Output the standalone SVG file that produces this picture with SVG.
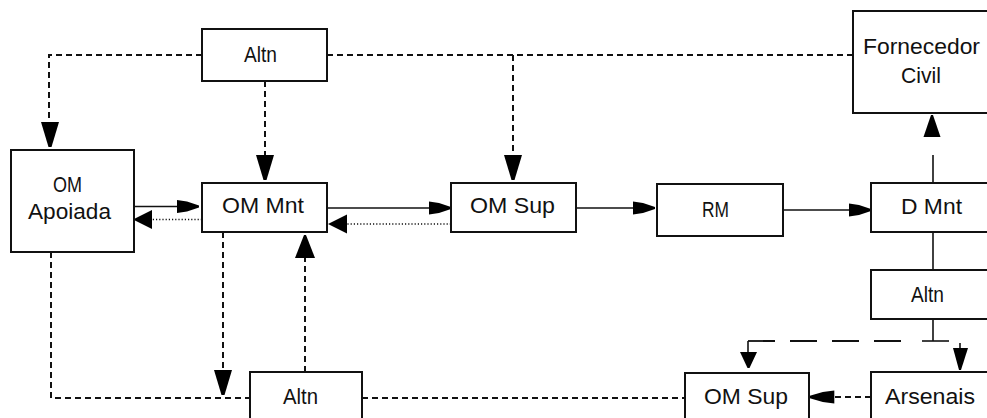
<svg xmlns="http://www.w3.org/2000/svg" xmlns:xlink="http://www.w3.org/1999/xlink" width="987" height="418" viewBox="0 0 987 418">
  <style>
    .box { fill: #fff; stroke: #111; stroke-width: 2; }
    .lbl { font-family: "Liberation Sans", Arial, sans-serif; font-size: 22px; fill: #111; }
    .solid { fill: none; stroke: #111; stroke-width: 1.6; }
    .dash { fill: none; stroke: #111; stroke-width: 2; stroke-dasharray: 6 4; }
    .dot { fill: none; stroke: #111; stroke-width: 1.6; stroke-dasharray: 1.2 2; }
    .long { fill: none; stroke: #111; stroke-width: 1.8; stroke-dasharray: 27 15; }
    .head { fill: #000; stroke: none; }
  </style>
  <defs>
    <!-- arrowheads, all pointing along +x with the tip at the origin -->
    <polygon id="hBig" class="head" points="0,-1.5 0,1.5 -25,9 -25,-9"/>
    <polygon id="hSlim" class="head" points="0,-1 0,1 -12,5 -22,6.5 -22,-6.5 -12,-5"/>
    <polygon id="hDot" class="head" points="0,0 -19,9.5 -19,-9.5"/>
    <polygon id="hSmall" class="head" points="0,-1 0,1 -22,8.5 -22,-8.5"/>
  </defs>

  <rect width="987" height="418" fill="#fff"/>

  <g id="connectors">
    <!-- Altn (top) distribution lines -->
    <path class="dash" d="M202 55 H49 V122"/>
    <use xlink:href="#hBig" transform="translate(50,147) rotate(90)"/>
    <path class="dash" d="M265 81 V155"/>
    <use xlink:href="#hBig" transform="translate(265,180) rotate(90)"/>
    <path class="dash" d="M327 55 H853"/>
    <path class="dash" d="M513 55 V155"/>
    <use xlink:href="#hBig" transform="translate(513,180) rotate(90)"/>

    <!-- OM Apoiada <-> OM Mnt -->
    <path class="solid" d="M133 206.5 H178"/>
    <use xlink:href="#hSlim" transform="translate(199,206.5)"/>
    <path class="dot" d="M202 219.5 H151"/>
    <use xlink:href="#hDot" transform="translate(133,219.5) rotate(180)"/>

    <!-- OM Mnt <-> OM Sup -->
    <path class="solid" d="M327 208 H430"/>
    <use xlink:href="#hSlim" transform="translate(451,208)"/>
    <path class="dot" d="M451 224 H346"/>
    <use xlink:href="#hDot" transform="translate(328,224) rotate(180)"/>

    <!-- OM Sup -> RM -> D Mnt -->
    <path class="solid" d="M576 208 H634"/>
    <use xlink:href="#hSlim" transform="translate(655,208)"/>
    <path class="solid" d="M783 210 H850"/>
    <use xlink:href="#hSlim" transform="translate(871,210)"/>

    <!-- D Mnt -> Fornecedor Civil -->
    <path class="solid" d="M933 183 V155"/>
    <use xlink:href="#hSmall" transform="translate(932,115) rotate(-90)"/>

    <!-- D Mnt -> Altn -> split -->
    <path class="solid" d="M933 232 V270"/>
    <path class="solid" d="M933 319 V341"/>
    <path class="solid" d="M922 341 H949"/>
    <path class="long" d="M748 341 H910"/>
    <path class="solid" d="M748 341 V352"/>
    <polygon class="head" points="740,352 757,352 749.5,368 747.5,368"/>
    <path class="solid" d="M960 343 V350"/>
    <polygon class="head" points="953,348 968,348 961,370 959,370"/>

    <!-- Arsenais -> OM Sup (bottom) -->
    <path class="dash" d="M871 397 H833"/>
    <use xlink:href="#hSlim" transform="translate(809,397) rotate(180) scale(1.15,1)"/>

    <!-- bottom lines around Altn (bottom) -->
    <path class="dash" d="M51 252 V398 H250"/>
    <path class="dash" d="M223 232 V370"/>
    <use xlink:href="#hBig" transform="translate(223,395) rotate(90)"/>
    <path class="dash" d="M305 372 V258"/>
    <polygon class="head" points="295,258 315,258 306,235 304,235"/>
    <path class="dash" d="M362 398 H685"/>
  </g>

  <g id="altn-top">
    <rect class="box" x="202" y="29" width="125" height="52"/>
    <text class="lbl" x="244" y="62" textLength="33" lengthAdjust="spacingAndGlyphs">Altn</text>
  </g>
  <g id="om-apoiada">
    <rect class="box" x="11" y="150" width="123" height="102"/>
    <text class="lbl" x="53" y="192" textLength="29" lengthAdjust="spacingAndGlyphs">OM</text>
    <text class="lbl" x="28" y="219" textLength="83" lengthAdjust="spacingAndGlyphs">Apoiada</text>
  </g>
  <g id="om-mnt">
    <rect class="box" x="202" y="183" width="125" height="49"/>
    <text class="lbl" x="222" y="213" textLength="82" lengthAdjust="spacingAndGlyphs">OM Mnt</text>
  </g>
  <g id="om-sup-top">
    <rect class="box" x="451" y="183" width="125" height="49"/>
    <text class="lbl" x="470" y="213" textLength="85" lengthAdjust="spacingAndGlyphs">OM Sup</text>
  </g>
  <g id="rm">
    <rect class="box" x="657" y="184" width="126" height="52"/>
    <text class="lbl" x="702" y="217" textLength="27" lengthAdjust="spacingAndGlyphs">RM</text>
  </g>
  <g id="d-mnt">
    <rect class="box" x="871" y="183" width="125" height="49"/>
    <text class="lbl" x="901" y="214" textLength="61" lengthAdjust="spacingAndGlyphs">D Mnt</text>
  </g>
  <g id="fornecedor-civil">
    <rect class="box" x="853" y="11" width="137" height="102"/>
    <text class="lbl" x="863" y="54" textLength="117" lengthAdjust="spacingAndGlyphs">Fornecedor</text>
    <text class="lbl" x="901" y="83" textLength="40" lengthAdjust="spacingAndGlyphs">Civil</text>
  </g>
  <g id="altn-right">
    <rect class="box" x="871" y="270" width="125" height="49"/>
    <text class="lbl" x="911" y="302" textLength="33" lengthAdjust="spacingAndGlyphs">Altn</text>
  </g>
  <g id="arsenais">
    <rect class="box" x="871" y="372" width="125" height="60"/>
    <text class="lbl" x="885" y="404" textLength="90" lengthAdjust="spacingAndGlyphs">Arsenais</text>
  </g>
  <g id="om-sup-bottom">
    <rect class="box" x="685" y="373" width="124" height="60"/>
    <text class="lbl" x="704" y="404" textLength="84" lengthAdjust="spacingAndGlyphs">OM Sup</text>
  </g>
  <g id="altn-bottom">
    <rect class="box" x="250" y="372" width="112" height="60"/>
    <text class="lbl" x="283" y="404" textLength="35" lengthAdjust="spacingAndGlyphs">Altn</text>
  </g>
</svg>
